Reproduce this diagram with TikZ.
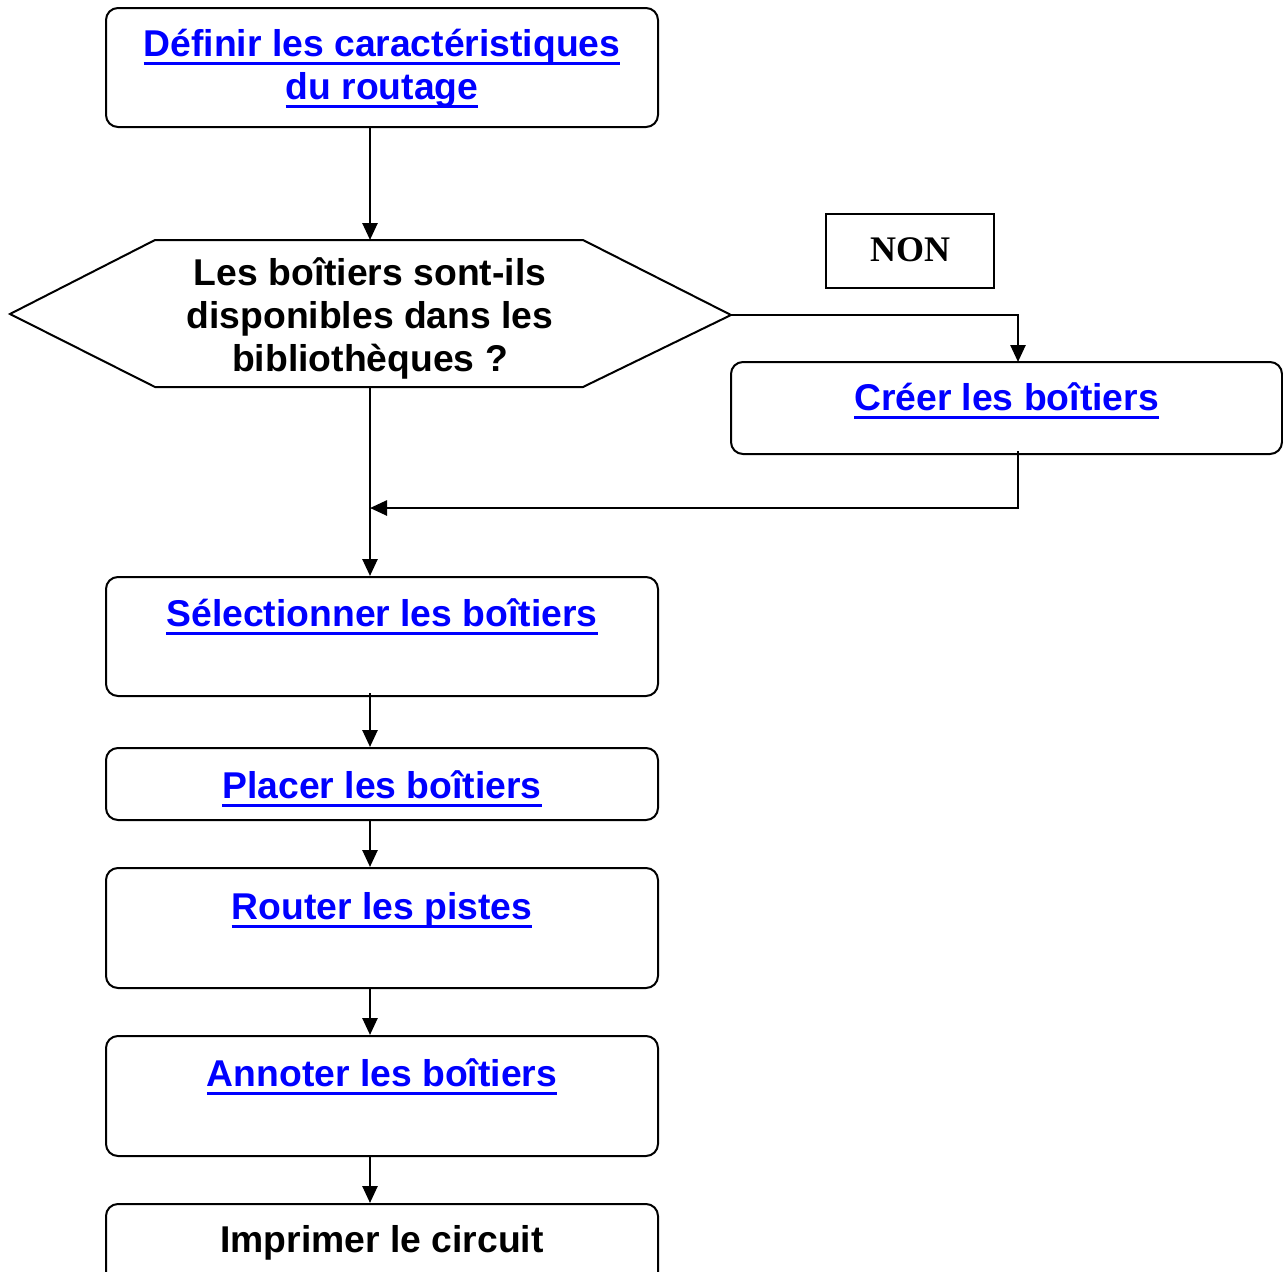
\documentclass[tikz,border=0pt]{standalone}
\usepackage{fontspec}
\setmainfont{Liberation Sans}
\newfontfamily\timesfont{Liberation Serif}
\usetikzlibrary{arrows.meta}
\definecolor{linkblue}{RGB}{0,0,255}
\newsavebox{\lnkbox}
\newcommand{\lnk}[1]{\sbox{\lnkbox}{#1}\rlap{\rule[-8.5pt]{\wd\lnkbox}{3pt}}\usebox{\lnkbox}}
\tikzset{
  box/.style={draw, line width=2pt, rounded corners=12pt, inner sep=0pt, minimum width=552pt},
  plainbox/.style={draw, line width=1.8pt, inner sep=0pt},
  lbl/.style={anchor=base, inner sep=0pt, font=\fontsize{37.3}{43}\selectfont\bfseries},
  link/.style={lbl, text=linkblue},
  conn/.style={line width=2.6pt},
  arr/.style={conn, -{Triangle[width=15pt,length=17pt]}},
}
\begin{document}
\begin{tikzpicture}[x=1pt,y=-1pt]
\useasboundingbox (0,0) rectangle (1283,1272);
% boxes
\node[box, minimum height=119pt] (b1) at (382,67.5) {};
\node[link] (t1a) at (382,56) {\lnk{Définir les caractéristiques}};
\node[link] (t1b) at (382,99) {\lnk{du routage}};
% hexagon
\coordinate (hL) at (10,314);
\coordinate (hR) at (731,315);
\coordinate (hexT) at (370,240);
\coordinate (hexB) at (370,387);
\draw[line width=2pt, line join=miter] (hL) -- (155,240) -- (583,240) -- (hR) -- (583,387) -- (155,387) -- cycle;
\node[lbl] (th1) at (370,285) {Les boîtiers sont-ils};
\node[lbl] (th2) at (370,328) {disponibles dans les};
\node[lbl] (th3) at (370,371) {bibliothèques ?};
% NON
\node[plainbox, minimum width=168pt, minimum height=74pt] (non) at (910,251) {};
\node[anchor=base, inner sep=0pt, font=\timesfont\fontsize{36}{40}\selectfont\bfseries] (tnon) at (910,261) {NON};
% Creer
\node[box, minimum width=551pt, minimum height=92pt] (cr) at (1006.5,408) {};
\node[link] (tcr) at (1006.5,410) {\lnk{Créer les boîtiers}};
\coordinate (cTop) at (1018,362);
\coordinate (join) at (370,508);
% Selectionner
\node[box, minimum height=119pt] (sel) at (382,636.5) {};
\node[link] (tsel) at (382,626) {\lnk{Sélectionner les boîtiers}};
% Placer
\node[box, minimum height=72pt] (pl) at (382,784) {};
\node[link] (tpl) at (382,798) {\lnk{Placer les boîtiers}};
% Router
\node[box, minimum height=120pt] (ro) at (382,928) {};
\node[link] (tro) at (382,919) {\lnk{Router les pistes}};
% Annoter
\node[box, minimum height=120pt] (an) at (382,1096) {};
\node[link] (tan) at (382,1086) {\lnk{Annoter les boîtiers}};
% Imprimer
\node[box, minimum height=120pt] (im) at (382,1264) {};
\node[lbl] (tim) at (382,1252) {Imprimer le circuit};
% connectors
\draw[arr] (b1.south -| hexT) -- (hexT);
\draw[arr] (hR) -| (cTop);
\draw[arr] ([yshift=4pt]cr.south -| cTop) |- (join);
\draw[arr] (hexB) -- (sel.north -| hexB);
\draw[arr] ([yshift=4pt]sel.south -| hexB) -- (pl.north -| hexB);
\draw[arr] ([yshift=2pt]pl.south -| hexB) -- (ro.north -| hexB);
\draw[arr] (ro.south -| hexB) -- (an.north -| hexB);
\draw[arr] (an.south -| hexB) -- (im.north -| hexB);
\end{tikzpicture}
\end{document}
